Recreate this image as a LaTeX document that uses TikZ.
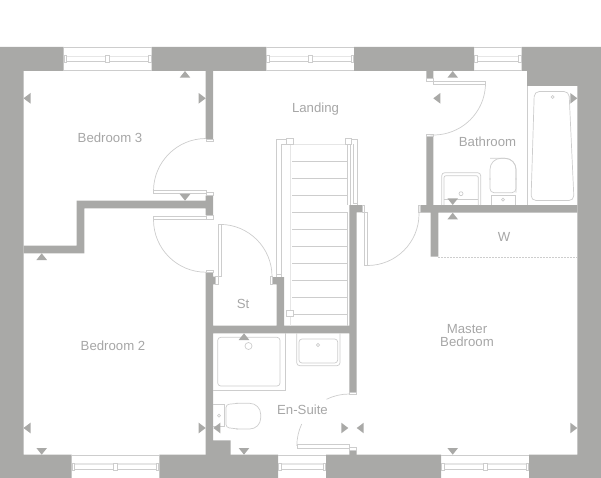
\documentclass[tikz,border=0pt]{standalone}
\usepackage{fontspec}
\setmainfont{Liberation Sans}
\usepackage{xcolor}
\usetikzlibrary{calc,positioning}
\definecolor{wallgrey}{HTML}{A9A9A7}
\definecolor{linegrey}{HTML}{CDCDCD}
\definecolor{softgrey}{HTML}{E6E6E6}
\definecolor{textgrey}{HTML}{A6A6A6}
\tikzset{
  wallfill/.style={fill=wallgrey, draw=none},
  fitting/.style={draw=linegrey, line width=0.7pt},
  softline/.style={draw=softgrey, line width=1.6pt},
  marker/.style={fill=wallgrey, draw=none},
  roomlabel/.style={text=textgrey, align=center, inner sep=0pt, font=\fontsize{13.2}{13.2}\selectfont}
}
\begin{document}
\begin{tikzpicture}[x=1pt,y=-1pt]
    \useasboundingbox (0,0) rectangle (601,478);
    % outer walls
    \fill[wallfill] (0,47) rectangle (23.5,478)
      (0,47) rectangle (63.5,71) (151.7,47) rectangle (266.3,71)
      (354,47) rectangle (474,71) (521.7,47) rectangle (601,71)
      (527,47) rectangle (601,86) (577.3,47) rectangle (601,478)
      (0,454.7) rectangle (71.7,478) (159.3,454.7) rectangle (278,478)
      (326,454.7) rectangle (441,478) (529,454.7) rectangle (601,478);
    % inner walls
    \fill[wallfill] (205.7,71) rectangle (213.2,139)
      (205.7,195.7) rectangle (213.2,215)
      (76.7,200.7) rectangle (206,208.3)
      (76.7,200.7) rectangle (84.3,253.3)
      (23.5,245.7) rectangle (84.3,253.3)
      (205.7,272) rectangle (213.2,455)
      (213,276.5) rectangle (215.7,284.3)
      (213,440.3) rectangle (230.7,455)
      (272.7,277) rectangle (284,284.3)
      (276.7,277) rectangle (284,327)
      (205.7,325.7) rectangle (356.7,333.3)
      (349.3,205) rectangle (356.7,392.3)
      (349.3,205) rectangle (362,212.3)
      (349.3,450.3) rectangle (356.7,455)
      (426.3,71) rectangle (433.3,78.7)
      (426.3,136.7) rectangle (433.3,205)
      (420,205) rectangle (577.3,212.7)
      (430.7,205) rectangle (438.3,256.7);
    \draw[draw=linegrey, line width=0.6pt, dash pattern=on 2pt off 1pt] (438.3,257) -- (577.3,257);
    % windows
    \foreach \xa/\xb/\ya in {63.5/151.7/47,266.3/354/47,474/521.7/47,71.7/159.3/454.7,278/326/454.7,441/529/454.7}{
      \draw[fitting] (\xa,\ya+0.5) -- (\xb,\ya+0.5) (\xa,\ya+23.5) -- (\xb,\ya+23.5);
      \draw[softline] (\xa,\ya+9.5) -- (\xb,\ya+9.5);
      \draw[fitting] (\xa,\ya+14.5) -- (\xb,\ya+14.5);
      \draw[fitting,fill=white] (\xa+0.5,\ya+8.5) rectangle (\xa+3,\ya+15.5);
      \draw[fitting,fill=white] (\xb-3,\ya+8.5) rectangle (\xb-0.5,\ya+15.5);
    }
    \foreach \xm/\ya in {107.5/47,310.2/47,115.5/454.7,485/454.7}{
      \draw[fitting,fill=white] (\xm-2,\ya+8.5) rectangle (\xm+2,\ya+15.5);
    }
    % doors
    \draw[fitting] (153.5,190.3) rectangle (206,193);
    \draw[fitting] (206,138.5) arc[start angle=90,end angle=180,radius=52.5pt];
    \draw[fitting] (153.5,216.8) rectangle (206,219.7);
    \draw[fitting] (153.5,219.7) arc[start angle=180,end angle=270,radius=52.5pt];
    \draw[fitting] (218.5,224.4) rectangle (221.5,276.7);
    \draw[fitting] (220,224.4) arc[start angle=90,end angle=0,radius=52pt];
    \draw[fitting] (364,212.3) rectangle (367.5,265.7);
    \draw[fitting] (366,265.5) -- (367.5,265.5) arc[start angle=270,end angle=360,radius=51.5pt] -- (419,205.5) -- (420,205.5);
    \draw[fitting] (433.3,81.3) rectangle (485.7,84);
    \draw[fitting] (485.5,83) arc[start angle=0,end angle=-97,radius=52pt];
    \draw[fitting] (349.3,394) arc[start angle=90,end angle=116,radius=52pt];
    \draw[fitting] (301.7,424) arc[start angle=155,end angle=180,radius=52pt];
    \draw[fitting] (297,444.7) rectangle (349.3,448);
    % door jambs
    \foreach \xa/\ya/\xb/\yb in {206/139/213.2/141.5,206/270/213.2/272,206/192.5/213.2/195.7,206/215/213.2/219,
      426.3/78.7/433.3/81.5,426.3/134.5/433.3/136.7,349.3/392.3/356.7/394.5,349.3/447.7/356.7/450.3,
      215.7/276.5/218.5/284.3,270/276.7/272.7/284.3,362/205/364.5/212.3,418.3/205/420/212.3}{
      \draw[draw=linegrey, line width=0.5pt] (\xa,\ya) rectangle (\xb,\yb);
    }
    % stairs
    \foreach \ty in {161.7,178.7,195.5,212.4,229.4,246.4,263.3,280.3,297.3,314.3}{
      \draw[fitting] (292.3,\ty) -- (347,\ty);
    }
    \draw[softline] (292,144.7) -- (346,144.7);
    \draw[softline] (290.3,144) -- (290.3,326);
    \draw[fitting] (347.8,144) -- (347.8,205);
    \draw[fitting] (347.8,212) -- (347.8,326);
    \draw[fitting] (350.5,144) -- (350.5,205);
    \draw[fitting] (353,144) -- (353,203) -- (357,203);
    \draw[fitting] (352,139.5) -- (357,139.5) -- (357,205);
    \draw[fitting] (287,139.5) -- (276.3,139.5) -- (276.3,277);
    \draw[fitting] (287,144) -- (281,144) -- (281,277);
    \draw[fitting] (276.3,274.5) -- (281,274.5);
    \foreach \xp/\yp in {286.8/138.3,345.4/138.3,286.8/310}{
      \draw[fitting,fill=white] (\xp,\yp) rectangle ++(6.3,6.4);
    }
    % bathroom
    \draw[fitting] (527.3,86) -- (527.3,205);
    \draw[fitting,rounded corners=5pt] (534.3,91.5) -- (569,91.5) -- (574,200.5) -- (531,200.5) -- cycle;
    \draw[fitting] (552.5,97) circle (1.5pt);
    \draw[fitting,rounded corners=3pt] (441.7,205) -- (441.7,172.7) -- (480.7,172.7) -- (480.7,205);
    \draw[fitting,rounded corners=2pt] (444,205) -- (444,175.7) -- (478.3,175.7) -- (478.3,205);
    \draw[fitting] (444,199.3) -- (478.3,199.3);
    \draw[fitting] (461,193.7) circle (2pt);
    \draw[fitting,rounded corners=11pt] (490,158.3) -- (516,158.3) -- (516,192.7);
    \draw[fitting,rounded corners=11pt] (516,180) -- (516,158.3) -- (490,158.3) -- (490,180);
    \draw[fitting,rounded corners=4pt] (490,178) -- (490,192.7) -- (516,192.7) -- (516,178);
    \draw[fitting] (491.7,205) -- (491.7,195) -- (515,195) -- (515,205);
    \draw[fitting] (503,199.7) circle (1.5pt);
    % en-suite
    \draw[fitting] (285,333.3) -- (285,390.7) -- (213.2,390.7);
    \draw[fitting,rounded corners=3pt] (217.7,337.3) rectangle (280,386);
    \draw[fitting] (248.5,346) circle (3.5pt);
    \draw[fitting,rounded corners=3pt] (296.7,333.3) -- (296.7,365.7) -- (340,365.7) -- (340,333.3);
    \draw[fitting,rounded corners=3pt] (299,339) -- (299,363) -- (337.7,363) -- (337.7,339) -- cycle;
    \draw[fitting] (318,345) circle (1.6pt);
    \draw[fitting] (213.2,404) -- (224.3,404) -- (224.3,426.7) -- (213.2,426.7);
    \draw[fitting,rounded corners=3pt] (238,403.3) -- (226,404.5) -- (226,427.5) -- (238,429);
    \draw[fitting,rounded corners=11pt] (236,403.3) -- (260.7,403.3) -- (260.7,429) -- (236,429);
    \draw[fitting] (219,415.7) circle (1.5pt);
    % markers
    \foreach \mx/\my in {185/71,41.7/253.3,244/333.3,452.7/71,452.7/212.7}{
      \fill[marker] (\mx,\my) -- ++(-5.3,6.7) -- ++(10.6,0) -- cycle;
    }
    \foreach \mx/\my in {185/200.7,41.7/454.7,244/454.7,452.7/454.7,452.7/205}{
      \fill[marker] (\mx,\my) -- ++(-5.3,-6.7) -- ++(10.6,0) -- cycle;
    }
    \foreach \mx/\my in {23.5/98.3,23.5/428,213.3/428,356.7/428,433.3/98.3}{
      \fill[marker] (\mx,\my) -- ++(7,-5.3) -- ++(0,10.6) -- cycle;
    }
    \foreach \mx/\my in {205.7/98.3,205.7/428,348.3/428,577.3/428,577.3/98.3}{
      \fill[marker] (\mx,\my) -- ++(-7,-5.3) -- ++(0,10.6) -- cycle;
    }
    % rooms
    \node[roomlabel] (bed3) at (110,138) {Bedroom 3};
    \node[roomlabel] (landing) at (315.5,109) {Landing};
    \node[roomlabel] (bath) at (487.5,142) {Bathroom};
    \node[roomlabel] (ward) at (504,237) {W};
    \node[roomlabel] (store) at (243,304) {St};
    \node[roomlabel] (bed2) at (113,346) {Bedroom 2};
    \node[roomlabel] (ensuite) at (302.5,410) {En-Suite};
    \node[roomlabel] (master) at (467,335.5) {Master\\Bedroom};
\end{tikzpicture}
\end{document}
